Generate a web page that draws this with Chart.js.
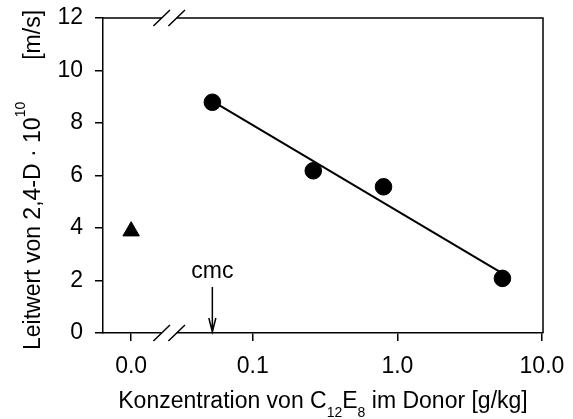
<!DOCTYPE html>
<html>
<head>
<meta charset="utf-8">
<script src="https://cdn.jsdelivr.net/npm/chart.js@4"></script>
<style>body{margin:0;background:#fff}</style>
</head>
<body>
<canvas id="chart" width="573" height="419"></canvas>
<script>
// data
const donorConc = [0.0525, 0.262, 0.802, 5.33];   // g/kg
const leitwert = [8.79, 6.18, 5.57, 2.08];
const blankConc = [0];
const blankLeitwert = [3.88];
const fitConc = [0.0525, 5.33];
const fitLeitwert = [8.83, 2.27];
const cmcConc = 0.0525;
const xTickValues = [0, 0.1, 1, 10];
const xTickLabels = ["0.0", "0.1", "1.0", "10.0"];
const yTickValues = [0, 2, 4, 6, 8, 10, 12];

// broken axis: the "0" segment sits left of the break on the log scale
const X_MIN = 0.0092, X_MAX = 10.17;
const ZERO_AT = 0.0144;
const BREAK_AT = 0.0264;
const toAxis = c => (c === 0 ? ZERO_AT : c);

const FONT = '"Liberation Sans", Arial, sans-serif';
const pts = (xs, ys) => xs.map((x, i) => ({ x: toAxis(x), y: ys[i] }));

function drawRuns(ctx, runs, x, y) {
  let cx = x;
  runs.forEach(r => {
    cx += r.gap || 0;
    ctx.font = r.size + "px " + FONT;
    ctx.fillText(r.text, cx, y + (r.dy || 0));
    cx += ctx.measureText(r.text).width;
  });
  return cx - x;
}
function runsWidth(ctx, runs) {
  let w = 0;
  runs.forEach(r => { ctx.font = r.size + "px " + FONT; w += ctx.measureText(r.text).width + (r.gap || 0); });
  return w;
}

const decorations = {
  id: "decorations",
  afterDraw(chart) {
    const { ctx, chartArea: a, scales } = chart;
    const xs = scales.x;
    ctx.save();
    ctx.strokeStyle = "#000";
    ctx.fillStyle = "#000";
    ctx.lineWidth = 1.5;
    // top and right frame
    ctx.beginPath();
    ctx.moveTo(a.left, a.top);
    ctx.lineTo(a.right, a.top);
    ctx.lineTo(a.right, a.bottom);
    ctx.stroke();

    // axis breaks
    const bx = xs.getPixelForValue(BREAK_AT);
    [a.top, a.bottom].forEach(y => {
      ctx.fillStyle = "#fff";
      ctx.fillRect(bx - 7.5, y - 2, 15, 4);
      ctx.beginPath();
      [-7.5, 7.5].forEach(off => {
        ctx.moveTo(bx + off - 8.3, y + 8);
        ctx.lineTo(bx + off + 8.3, y - 8);
      });
      ctx.stroke();
    });

    // cmc arrow
    ctx.fillStyle = "#000";
    const cx = xs.getPixelForValue(cmcConc);
    ctx.beginPath();
    ctx.moveTo(cx, a.bottom - 46);
    ctx.lineTo(cx, a.bottom - 1);
    ctx.moveTo(cx - 3.5, a.bottom - 15);
    ctx.lineTo(cx, a.bottom - 1);
    ctx.lineTo(cx + 3.5, a.bottom - 15);
    ctx.stroke();
    ctx.font = "23px " + FONT;
    ctx.textAlign = "center";
    ctx.textBaseline = "alphabetic";
    ctx.fillText("cmc", cx, a.bottom - 55);

    // axis titles with sub/superscripts
    ctx.textAlign = "left";
    const xRuns = [
      { text: "Konzentration von C", size: 23 },
      { text: "12", size: 14, dy: 8.5 },
      { text: "E", size: 23 },
      { text: "8", size: 14, dy: 8.5 },
      { text: " im Donor [g/kg]", size: 23 }
    ];
    const xw = runsWidth(ctx, xRuns);
    drawRuns(ctx, xRuns, (a.left + a.right) / 2 - xw / 2, 408);

    const yRuns = [
      { text: "Leitwert von 2,4-D \u00b7 10", size: 23 },
      { text: "10", size: 14, dy: -15 },
      { text: "[m/s]", size: 23, gap: 42 }
    ];
    const yw = runsWidth(ctx, yRuns);
    ctx.translate(40, (a.top + a.bottom) / 2 + 4.5);
    ctx.rotate(-Math.PI / 2);
    drawRuns(ctx, yRuns, -yw / 2, 0);
    ctx.restore();
  }
};

const tickFont = { family: FONT, size: 23 };

new Chart(document.getElementById("chart"), {
  type: "scatter",
  data: {
    datasets: [
      {
        type: "line",
        data: pts(fitConc, fitLeitwert),
        borderColor: "#000",
        borderWidth: 2,
        pointRadius: 0,
        fill: false
      },
      {
        data: pts(donorConc, leitwert),
        backgroundColor: "#000",
        borderColor: "#000",
        pointRadius: 8.3
      },
      {
        data: pts(blankConc, blankLeitwert),
        pointStyle: "triangle",
        backgroundColor: "#000",
        borderColor: "#000",
        pointRadius: 9.5
      }
    ]
  },
  options: {
    responsive: false,
    animation: false,
    devicePixelRatio: 1,
    layout: { padding: { left: 0, top: 18, right: 30, bottom: 0 } },
    plugins: { legend: { display: false }, tooltip: { enabled: false } },
    scales: {
      x: {
        type: "logarithmic",
        min: X_MIN,
        max: X_MAX,
        afterBuildTicks: s => { s.ticks = xTickValues.map(v => ({ value: toAxis(v) })); },
        afterFit: s => { s.height = 86; s.paddingLeft = 0; s.paddingRight = 0; },
        ticks: {
          callback: (v, i) => xTickLabels[i],
          font: tickFont, color: "#000", padding: 12,
          maxRotation: 0, autoSkip: false
        },
        grid: { drawOnChartArea: false, tickLength: 8, tickColor: "#000", lineWidth: 1.5 },
        border: { color: "#000", width: 1.5 }
      },
      y: {
        min: 0,
        max: 12,
        afterBuildTicks: s => { s.ticks = yTickValues.map(v => ({ value: v })); },
        afterFit: s => { s.width = 103; s.paddingTop = 0; s.paddingBottom = 0; },
        ticks: { font: tickFont, color: "#000", padding: 12 },
        grid: { drawOnChartArea: false, tickLength: 8, tickColor: "#000", lineWidth: 1.5 },
        border: { color: "#000", width: 1.5 }
      }
    }
  },
  plugins: [decorations]
});
</script>
</body>
</html>
